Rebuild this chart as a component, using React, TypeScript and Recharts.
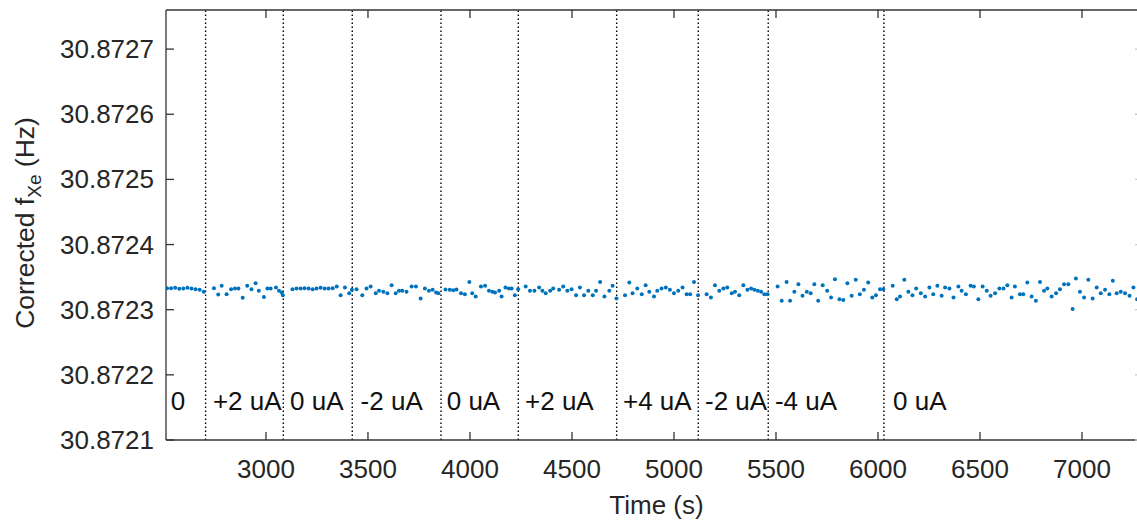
import React from 'react';
import { ScatterChart, Scatter, XAxis, YAxis, ReferenceLine } from 'recharts';

// Sample times (s) of the corrected Xe precession frequency measurements
const TIME_S = [
  2515, 2535, 2555, 2575, 2595, 2615, 2635, 2655, 2675, 2695,
  2745, 2766, 2783, 2807, 2829, 2848, 2865, 2886, 2908, 2929, 2949, 2965, 2990, 3007, 3023, 3049, 3064, 3077, 3083,
  3130, 3150, 3170, 3189, 3209, 3229, 3248, 3268, 3288, 3307, 3327, 3347, 3366, 3387, 3408, 3421,
  3444, 3472, 3493, 3513, 3538, 3554, 3575, 3595, 3616, 3636, 3652, 3668, 3689, 3714, 3735, 3758, 3779, 3799, 3817, 3834, 3845,
  3880, 3901, 3918, 3934, 3956, 3975, 3997, 4011, 4028, 4054, 4074, 4093, 4110, 4123, 4143, 4155, 4174, 4191, 4204, 4220,
  4236, 4273, 4294, 4316, 4339, 4355, 4371, 4393, 4408, 4437, 4457, 4477, 4498, 4520, 4539, 4559, 4580, 4602, 4618, 4638, 4659, 4683, 4699, 4718,
  4760, 4781, 4797, 4820, 4842, 4861, 4879, 4902, 4918, 4939, 4960, 4980, 5000, 5021, 5042, 5062, 5079, 5098, 5118,
  5160, 5181, 5201, 5222, 5242, 5261, 5283, 5299, 5320, 5340, 5360, 5378, 5394, 5411, 5427, 5443, 5459,
  5508, 5528, 5552, 5569, 5590, 5610, 5630, 5651, 5670, 5688, 5707, 5729, 5751, 5770, 5789, 5811, 5830, 5850, 5871, 5891, 5911, 5931, 5952, 5972, 5990, 6010, 6026,
  6072, 6092, 6108, 6129, 6149, 6169, 6187, 6210, 6231, 6252, 6271, 6291, 6312,
  6329, 6350, 6370, 6394, 6410, 6431, 6454, 6470, 6492, 6513, 6533, 6552, 6574, 6595, 6615, 6634, 6655, 6671, 6696, 6712,
  6732, 6753, 6774, 6794, 6814, 6830, 6851, 6873, 6892, 6912, 6933, 6954, 6970, 6990, 7010, 7031, 7052, 7072, 7092, 7113,
  7134, 7151, 7170, 7190, 7211, 7233, 7252, 7270,
];

// Corrected f_Xe (Hz), one value per sample time
const FREQ_HZ = [
  30.8723330, 30.8723330, 30.8723335, 30.8723320, 30.8723325, 30.8723335, 30.8723325, 30.8723315, 30.8723305, 30.8723274,
  30.8723330, 30.8723233, 30.8723366, 30.8723239, 30.8723315, 30.8723325, 30.8723325, 30.8723182, 30.8723366, 30.8723315,
  30.8723407, 30.8723290, 30.8723193, 30.8723325, 30.8723325, 30.8723341, 30.8723290, 30.8723264, 30.8723223,
  30.8723315, 30.8723325, 30.8723325, 30.8723330, 30.8723325, 30.8723315, 30.8723325, 30.8723335, 30.8723325, 30.8723325,
  30.8723330, 30.8723356, 30.8723223, 30.8723341, 30.8723254, 30.8723305,
  30.8723315, 30.8723223, 30.8723325, 30.8723356, 30.8723254, 30.8723290, 30.8723274, 30.8723254, 30.8723376, 30.8723254,
  30.8723290, 30.8723290, 30.8723274, 30.8723356, 30.8723356, 30.8723172, 30.8723325, 30.8723290, 30.8723305, 30.8723264, 30.8723254,
  30.8723310, 30.8723305, 30.8723300, 30.8723310, 30.8723254, 30.8723239, 30.8723427, 30.8723254, 30.8723203, 30.8723356,
  30.8723366, 30.8723290, 30.8723274, 30.8723264, 30.8723290, 30.8723203, 30.8723341, 30.8723325, 30.8723325, 30.8723223,
  30.8723315, 30.8723356, 30.8723290, 30.8723290, 30.8723341, 30.8723290, 30.8723254, 30.8723290, 30.8723325, 30.8723305,
  30.8723356, 30.8723290, 30.8723315, 30.8723223, 30.8723341, 30.8723223, 30.8723290, 30.8723223, 30.8723290, 30.8723427,
  30.8723203, 30.8723290, 30.8723366, 30.8723172,
  30.8723223, 30.8723417, 30.8723254, 30.8723325, 30.8723239, 30.8723376, 30.8723274, 30.8723203, 30.8723290, 30.8723325,
  30.8723341, 30.8723305, 30.8723254, 30.8723290, 30.8723341, 30.8723239, 30.8723239, 30.8723427, 30.8723223,
  30.8723239, 30.8723188, 30.8723376, 30.8723290, 30.8723325, 30.8723341, 30.8723254, 30.8723274, 30.8723223, 30.8723376,
  30.8723305, 30.8723325, 30.8723305, 30.8723290, 30.8723274, 30.8723239, 30.8723239,
  30.8723356, 30.8723137, 30.8723427, 30.8723137, 30.8723274, 30.8723392, 30.8723213, 30.8723274, 30.8723254, 30.8723392,
  30.8723137, 30.8723376, 30.8723290, 30.8723188, 30.8723468, 30.8723162, 30.8723147, 30.8723407, 30.8723213, 30.8723458,
  30.8723239, 30.8723305, 30.8723417, 30.8723188, 30.8723223, 30.8723315, 30.8723315,
  30.8723366, 30.8723162, 30.8723203, 30.8723458, 30.8723274, 30.8723223, 30.8723325, 30.8723254, 30.8723203, 30.8723341,
  30.8723239, 30.8723366, 30.8723213,
  30.8723341, 30.8723325, 30.8723188, 30.8723356, 30.8723290, 30.8723239, 30.8723366, 30.8723356, 30.8723162, 30.8723356,
  30.8723290, 30.8723213, 30.8723254, 30.8723325, 30.8723325, 30.8723376, 30.8723188, 30.8723356, 30.8723239, 30.8723239,
  30.8723417, 30.8723203, 30.8723137, 30.8723427, 30.8723290, 30.8723325, 30.8723203, 30.8723254, 30.8723315, 30.8723392,
  30.8723392, 30.8723009, 30.8723478, 30.8723274, 30.8723188, 30.8723458, 30.8723172, 30.8723341, 30.8723254, 30.8723305,
  30.8723239, 30.8723443, 30.8723254, 30.8723274, 30.8723254, 30.8723213, 30.8723341, 30.8723162,
];

// Times at which the applied current was switched
const STEP_TIMES = [2704, 3085, 3423, 3858, 4237, 4719, 5119, 5462, 6029];

// Applied current annotations and where they sit
const CURRENT_LABELS = ['0', '+2 uA', '0 uA', '-2 uA', '0 uA', '+2 uA', '+4 uA', '-2 uA', '-4 uA', '0 uA'];
const LABEL_TIMES = [2533, 2740, 3118, 3464, 3886, 4270, 4750, 5152, 5495, 6074];
const LABEL_FREQ = 30.872146;

const X_TICKS = [3000, 3500, 4000, 4500, 5000, 5500, 6000, 6500, 7000];
const Y_TICKS = [30.8721, 30.8722, 30.8723, 30.8724, 30.8725, 30.8726, 30.8727];
const X_DOMAIN: [number, number] = [2510, 7299];
const Y_DOMAIN: [number, number] = [30.8721, 30.87276];

const FONT = '"Liberation Sans", Arial, Helvetica, sans-serif';
const AXIS_COLOR = '#333333';
const TEXT_COLOR = '#262626';
const DOT_COLOR = '#0072BD';
const TICK_LEN = 8;
const LEFT_MARGIN = 20;
const BOTTOM_MARGIN = 28;

const points = TIME_S.map((t, i) => ({ t, f: FREQ_HZ[i] }));
const labels = LABEL_TIMES.map((t, i) => ({ t, f: LABEL_FREQ, text: CURRENT_LABELS[i] }));

const Dot = (p: any) => <circle cx={p.cx} cy={p.cy} r={2} fill={DOT_COLOR} />;
const NoMark = () => <g />;

const CurrentLabel = (p: any) => (
  <text x={p.cx} y={p.cy} fontSize={26} fontFamily={FONT} fill="#111" textAnchor="start">
    {p.payload.text}
  </text>
);

// Inward-pointing tick marks, drawn together with their labels
const LeftTick = (p: any) => (
  <g>
    <line
      x1={p.x + LEFT_MARGIN - TICK_LEN}
      x2={p.x + LEFT_MARGIN}
      y1={p.y}
      y2={p.y}
      stroke={AXIS_COLOR}
      strokeWidth={1.3}
    />
    <text x={p.x} y={p.y} dy="0.35em" textAnchor="end" fontSize={26} fontFamily={FONT} fill={TEXT_COLOR}>
      {Number(p.payload.value).toFixed(4)}
    </text>
  </g>
);

const BottomTick = (p: any) => (
  <g>
    <line
      x1={p.x}
      x2={p.x}
      y1={p.y - BOTTOM_MARGIN}
      y2={p.y - BOTTOM_MARGIN + TICK_LEN}
      stroke={AXIS_COLOR}
      strokeWidth={1.3}
    />
    <text x={p.x} y={p.y} dy="0.71em" textAnchor="middle" fontSize={26} fontFamily={FONT} fill={TEXT_COLOR}>
      {p.payload.value}
    </text>
  </g>
);

const TopTick = (p: any) => (
  <line x1={p.x} x2={p.x} y1={p.y - TICK_LEN} y2={p.y} stroke={AXIS_COLOR} strokeWidth={1.3} />
);

const RightTick = (p: any) => (
  <line x1={p.x} x2={p.x + TICK_LEN} y1={p.y} y2={p.y} stroke="#c8c8c8" strokeWidth={1.3} />
);

const YTitle = (props: any) => {
  const vb = props.viewBox || { x: 0, y: 10, width: 166, height: 430 };
  const cx = vb.x + 34;
  const cy = vb.y + vb.height / 2 - 2;
  return (
    <text
      x={cx}
      y={cy}
      transform={`rotate(-90 ${cx} ${cy})`}
      textAnchor="middle"
      fontSize={26.5}
      fontFamily={FONT}
      fill={TEXT_COLOR}
    >
      Corrected f
      <tspan fontSize={19} dy={7}>Xe</tspan>
      <tspan dy={-7}> (Hz)</tspan>
    </text>
  );
};

const XTitle = (props: any) => {
  const vb = props.viewBox || { x: 166, y: 440, width: 977, height: 82 };
  const cx = vb.x + vb.width / 2 + 2;
  return (
    <text x={cx} y={514} textAnchor="middle" fontSize={26} fontFamily={FONT} fill={TEXT_COLOR}>
      Time (s)
    </text>
  );
};

export default function App() {
  return (
    <div
      style={{
        position: 'fixed',
        left: 0,
        top: 0,
        width: 1137,
        height: 522,
        overflow: 'hidden',
        background: '#fff',
      }}
    >
      <ScatterChart width={1144} height={522} margin={{ top: 9, right: 0, bottom: 0, left: 0 }}>
        <XAxis
          xAxisId="main"
          dataKey="t"
          type="number"
          domain={X_DOMAIN}
          ticks={X_TICKS}
          allowDataOverflow
          height={82}
          tickSize={-TICK_LEN}
          tickMargin={BOTTOM_MARGIN}
          tickLine={false}
          stroke={AXIS_COLOR}
          strokeWidth={1.3}
          tick={<BottomTick />}
          label={<XTitle />}
        />
        <XAxis
          xAxisId="top"
          orientation="top"
          dataKey="t"
          type="number"
          domain={X_DOMAIN}
          ticks={X_TICKS}
          allowDataOverflow
          height={1}
          tickSize={-TICK_LEN}
          tickMargin={0}
          tickLine={false}
          tick={<TopTick />}
          stroke={AXIS_COLOR}
          strokeWidth={1.3}
        />
        <YAxis
          yAxisId="main"
          dataKey="f"
          type="number"
          domain={Y_DOMAIN}
          ticks={Y_TICKS}
          allowDataOverflow
          width={166}
          tickSize={-TICK_LEN}
          tickMargin={LEFT_MARGIN}
          tickLine={false}
          stroke={AXIS_COLOR}
          strokeWidth={1.3}
          tick={<LeftTick />}
          label={<YTitle />}
        />
        <YAxis
          yAxisId="right"
          orientation="right"
          dataKey="f"
          type="number"
          domain={Y_DOMAIN}
          ticks={Y_TICKS}
          allowDataOverflow
          width={1}
          tickSize={-TICK_LEN}
          tickMargin={0}
          tickLine={false}
          tick={<RightTick />}
          stroke="#c8c8c8"
          strokeWidth={1.3}
        />
        {STEP_TIMES.map((t) => (
          <ReferenceLine
            key={t}
            x={t}
            xAxisId="main"
            yAxisId="main"
            stroke="#000"
            strokeWidth={1.4}
            strokeDasharray="1.4 2.6"
          />
        ))}
        {/* binds the box's top and right axes so they are drawn */}
        <Scatter
          data={points}
          xAxisId="top"
          yAxisId="right"
          shape={NoMark}
          isAnimationActive={false}
        />
        <Scatter
          data={points}
          xAxisId="main"
          yAxisId="main"
          shape={Dot}
          isAnimationActive={false}
        />
        <Scatter
          data={labels}
          xAxisId="main"
          yAxisId="main"
          shape={CurrentLabel}
          isAnimationActive={false}
        />
      </ScatterChart>
    </div>
  );
}
